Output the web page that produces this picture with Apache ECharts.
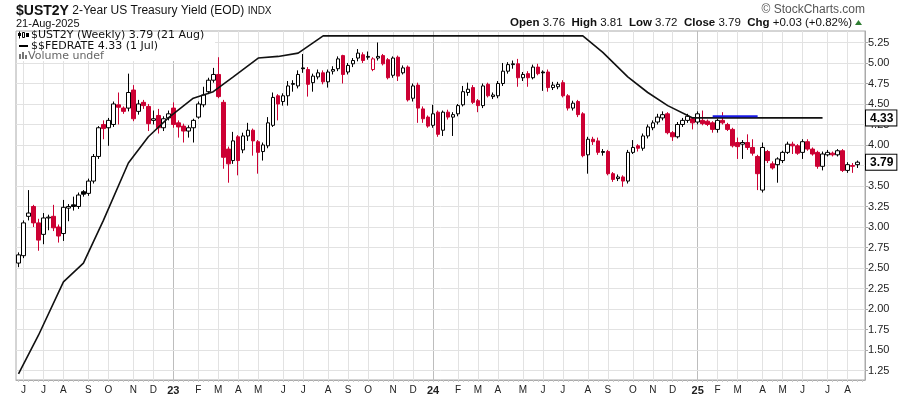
<!DOCTYPE html>
<html><head><meta charset="utf-8">
<script src="https://cdn.jsdelivr.net/npm/echarts@6/dist/echarts.min.js"></script>
<style>html,body{margin:0;padding:0;background:#fff}#c{width:900px;height:396px}</style>
</head><body><div id="c"></div>
<script>
// ---- data ----
const firstWeek = [2022, 5, 30];   // Monday of the first weekly bar
const weekSlots = 170;             // 169 bars + one empty slot at the right
const open = [2.56,2.65,3.13,3.25,3.05,2.91,3.11,3.13,3.00,2.92,3.23,3.27,3.25,3.43,3.41,3.56,3.86,4.25,4.21,4.25,
4.49,4.45,4.45,4.67,4.41,4.52,4.47,4.30,4.36,4.21,4.33,4.45,4.27,4.23,4.17,4.21,4.34,4.49,4.65,4.79,
4.86,4.52,3.95,3.81,4.10,3.94,4.11,4.18,4.04,3.92,3.99,4.24,4.60,4.53,4.60,4.74,4.72,4.94,4.92,4.76,
4.83,4.88,4.77,4.90,4.93,5.09,4.89,4.99,5.06,5.10,5.07,4.92,5.06,5.09,5.04,4.85,5.07,4.88,4.95,4.57,
4.73,4.44,4.34,4.24,4.40,4.18,4.40,4.34,4.38,4.49,4.64,4.70,4.54,4.48,4.74,4.59,4.60,4.75,4.90,4.98,
4.99,4.82,4.87,4.82,4.95,4.89,4.89,4.70,4.71,4.76,4.60,4.45,4.53,4.38,3.88,4.07,4.05,3.92,3.92,3.65,
3.59,3.61,3.56,3.91,3.99,3.96,4.11,4.21,4.28,4.33,4.38,4.15,4.10,4.25,4.30,4.32,4.28,4.30,4.29,4.27,
4.19,4.30,4.25,4.19,4.03,4.01,4.03,3.97,3.86,3.45,3.92,3.77,3.76,3.81,3.91,4.01,3.99,3.91,4.04,3.95,
3.91,3.74,3.88,3.90,3.88,3.93,3.69,3.75,3.76];
const high = [2.69,3.08,3.45,3.27,3.10,3.17,3.15,3.27,3.03,3.33,3.28,3.37,3.42,3.45,3.59,3.89,4.23,4.30,4.33,4.53,
4.64,4.47,4.87,4.73,4.55,4.55,4.50,4.42,4.44,4.35,4.42,4.52,4.30,4.26,4.24,4.32,4.53,4.71,4.82,4.94,
5.07,4.55,3.98,4.16,4.12,4.15,4.27,4.20,4.06,4.03,4.34,4.64,4.62,4.63,4.78,4.79,4.91,5.11,4.95,4.87,
4.92,4.91,4.92,4.96,5.08,5.10,5.00,5.06,5.17,5.13,5.14,5.07,5.25,5.11,5.06,5.08,5.09,4.97,4.97,4.75,
4.76,4.47,4.36,4.49,4.42,4.42,4.43,4.40,4.50,4.72,4.76,4.73,4.56,4.75,4.76,4.64,4.78,5.00,5.01,5.03,
5.05,4.89,4.90,4.98,4.99,4.91,4.92,4.77,4.77,4.79,4.62,4.54,4.55,4.40,4.10,4.10,4.09,3.95,3.94,3.67,
3.64,3.63,3.94,4.06,4.01,4.14,4.25,4.30,4.38,4.41,4.40,4.17,4.28,4.33,4.38,4.34,4.41,4.42,4.31,4.29,
4.32,4.40,4.27,4.21,4.09,4.06,4.13,4.07,3.88,4.03,3.94,3.80,3.85,3.93,4.04,4.04,4.01,4.07,4.07,3.97,
3.93,3.92,3.94,3.92,3.95,3.95,3.79,3.78,3.81];
const low = [2.51,2.62,3.08,3.00,2.71,2.79,2.96,2.95,2.81,2.83,3.07,3.20,3.22,3.37,3.38,3.53,3.83,4.07,3.99,4.22,
4.25,4.38,4.41,4.29,4.37,4.44,4.17,4.25,4.14,4.17,4.30,4.21,4.09,4.03,4.09,4.03,4.32,4.46,4.62,4.76,
4.57,3.71,3.54,3.77,3.63,3.90,4.05,3.87,3.65,3.81,3.96,4.22,4.30,4.48,4.48,4.65,4.69,4.88,4.59,4.65,
4.80,4.74,4.70,4.86,4.90,4.75,4.86,4.95,5.02,5.00,5.04,4.90,5.03,4.97,4.80,4.82,4.78,4.86,4.53,4.53,
4.27,4.27,4.21,4.21,4.10,4.11,4.31,4.11,4.35,4.47,4.60,4.50,4.40,4.45,4.58,4.56,4.57,4.72,4.87,4.93,
4.71,4.78,4.71,4.80,4.85,4.66,4.65,4.67,4.68,4.58,4.42,4.42,4.34,3.85,3.65,4.00,3.88,3.87,3.63,3.55,
3.56,3.49,3.53,3.89,3.92,3.93,4.08,4.18,4.25,4.30,4.13,4.05,4.08,4.22,4.27,4.19,4.25,4.24,4.23,4.15,
4.15,4.25,4.17,3.97,3.83,3.83,3.94,3.87,3.45,3.42,3.78,3.70,3.54,3.78,3.89,3.89,3.88,3.83,3.93,3.87,
3.71,3.69,3.86,3.86,3.86,3.67,3.66,3.66,3.72];
const close = [2.66,3.05,3.17,3.05,2.84,3.11,3.12,2.99,2.89,3.24,3.25,3.25,3.39,3.40,3.56,3.86,4.21,4.20,4.30,4.50,
4.46,4.41,4.64,4.32,4.50,4.48,4.26,4.32,4.21,4.32,4.38,4.25,4.22,4.17,4.21,4.30,4.50,4.61,4.79,4.86,
4.59,3.85,3.77,4.05,3.81,4.11,4.18,4.05,3.91,4.00,4.27,4.58,4.50,4.60,4.72,4.75,4.86,4.93,4.74,4.84,
4.88,4.77,4.89,4.92,5.05,4.86,4.97,5.03,5.12,5.03,5.08,5.05,5.08,4.99,4.82,5.06,4.84,4.94,4.55,4.72,
4.45,4.32,4.23,4.38,4.13,4.40,4.34,4.37,4.48,4.65,4.68,4.52,4.48,4.72,4.60,4.61,4.75,4.90,4.98,4.99,
4.82,4.86,4.82,4.95,4.87,4.88,4.70,4.73,4.74,4.60,4.45,4.51,4.37,3.87,4.07,4.04,3.91,3.91,3.65,3.58,
3.61,3.56,3.91,3.97,3.96,4.11,4.22,4.27,4.34,4.37,4.15,4.10,4.25,4.30,4.35,4.27,4.38,4.26,4.25,4.19,
4.30,4.27,4.19,3.99,3.98,4.03,3.97,3.90,3.65,3.97,3.81,3.72,3.83,3.91,4.01,3.99,3.90,4.04,3.95,3.89,
3.74,3.89,3.91,3.88,3.93,3.69,3.76,3.74,3.79];
const fedDates = ['2022-06-01','2022-07-01','2022-08-01','2022-09-01','2022-10-01','2022-11-01','2022-12-01',
'2023-01-01','2023-02-01','2023-03-01','2023-04-01','2023-05-01','2023-06-01','2023-07-01','2023-08-01','2023-09-01',
'2023-10-01','2023-11-01','2023-12-01','2024-01-01','2024-02-01','2024-03-01','2024-04-01','2024-05-01','2024-06-01',
'2024-07-01','2024-08-01','2024-09-01','2024-10-01','2024-11-01','2024-12-01','2025-01-01','2025-02-01','2025-03-01',
'2025-04-01','2025-05-01','2025-06-01','2025-07-01'];
const fedRate = [1.21,1.68,2.33,2.56,3.08,3.78,4.10,
4.33,4.57,4.65,4.83,5.06,5.08,5.12,5.33,5.33,5.33,5.33,5.33,
5.33,5.33,5.33,5.33,5.33,5.33,5.33,5.33,5.13,4.83,4.64,4.48,
4.33,4.33,4.33,4.33,4.33,4.33,4.33];
const blueDates = ['2025-01-27','2025-03-31'];
const blueLevel = 4.35;
const yTicks = [1.25,1.5,1.75,2,2.25,2.5,2.75,3,3.25,3.5,3.75,4,4.25,4.5,4.75,5,5.25];
const monthLetters = ['J','F','M','A','M','J','J','A','S','O','N','D'];

// ---- build ----
const DAY = 864e5;
const t0 = Date.UTC(firstWeek[0], firstWeek[1]-1, firstWeek[2]);
const pad = n => (n<10?'0':'')+n;
const categories = [];
const catMonth = [];
const catYear = [];
for (let i=0;i<weekSlots;i++){
  const d = new Date(t0 + i*7*DAY);
  categories.push(d.getUTCFullYear()+'-'+pad(d.getUTCMonth()+1)+'-'+pad(d.getUTCDate()));
  catMonth.push(d.getUTCMonth()); catYear.push(d.getUTCFullYear());
}
const monthStart = categories.map((c,i)=> i>0 && catMonth[i]!==catMonth[i-1]);
const weekIndex = s => { const p=s.split('-').map(Number); return Math.floor((Date.UTC(p[0],p[1]-1,p[2])-t0)/(7*DAY)); };

const RED = '#cc0033';
const candleData = open.map((o,i)=>{
  const c = close[i];
  const prev = i>0 ? close[i-1] : o;
  const edge = c < prev ? RED : '#000';
  const fill = c >= o ? '#fff' : edge;
  return {value:[o,c,low[i],high[i]], itemStyle:{color:fill,color0:fill,borderColor:edge,borderColor0:edge}};
});

const fedData = new Array(weekSlots).fill(null);
fedDates.forEach((d,k)=>{ fedData[weekIndex(d)] = fedRate[k]; });
const blueData = new Array(weekSlots).fill(null);
for (let i=weekIndex(blueDates[0]); i<=weekIndex(blueDates[1]); i++) blueData[i]=blueLevel;

const gridLines = [];
monthStart.forEach((m,i)=>{ if(m) gridLines.push({xAxis:categories[i], lineStyle:{color: catMonth[i]===0 ? '#bdbdbd' : '#e2e2e2'}}); });
yTicks.forEach(v=>gridLines.push({yAxis:v, lineStyle:{color:'#e2e2e2'}}));

const FONT = '"Liberation Sans", Arial, sans-serif';
const LFONT = '11px "DejaVu Sans", sans-serif';
const chart = echarts.init(document.getElementById('c'), null, {renderer:'canvas'});
const tagLabel = {show:true, position:'end', distance:1, formatter:p=>'{t|'+p.value.toFixed(2)+'}',
  rich:{t:{color:'#000', fontWeight:'bold', fontSize:12, fontFamily:FONT, backgroundColor:'#fff',
  borderColor:'#000', borderWidth:1, padding:[2,3,1,4]}}};
const tagLine = {color:'rgba(0,0,0,0)', width:0};
const LZ = 60;

chart.setOption({
  animation:false,
  backgroundColor:'#fff',
  grid:{left:16, top:31, width:849, height:349, show:true, borderColor:'#aaa', borderWidth:1, backgroundColor:'transparent'},
  xAxis:{type:'category', data:categories, boundaryGap:true,
    axisLine:{show:true, lineStyle:{color:'#aaa'}},
    axisTick:{show:true, interval:0, alignWithLabel:true, length:2, lineStyle:{color:'#c8c8c8'}},
    axisLabel:{interval:(i)=>monthStart[i], margin:5, color:'#222', fontSize:10, fontFamily:FONT,
      formatter:(v,i)=> catMonth[i]===0 ? '{y|'+String(catYear[i]).slice(2)+'}' : monthLetters[catMonth[i]],
      rich:{y:{fontWeight:'bold', fontSize:11, fontFamily:FONT, color:'#222'}}},
    splitLine:{show:false}},
  yAxis:{type:'value', position:'right', min:1.134, max:5.390, scale:true,
    axisLine:{show:true, lineStyle:{color:'#aaa'}},
    axisTick:{show:true, customValues:yTicks, length:3, lineStyle:{color:'#aaa'}},
    axisLabel:{customValues:yTicks, formatter:v=>v.toFixed(2), color:'#222', fontSize:11, fontFamily:FONT, margin:3},
    splitLine:{show:false}},
  series:[
    {type:'line', data:new Array(weekSlots).fill(null), silent:true, z:1,
     markLine:{silent:true, z:1, symbol:['none','none'], label:{show:false}, animation:false,
       lineStyle:{type:'solid', width:1}, data:gridLines}},
    {type:'candlestick', data:candleData, barWidth:4, z:3, silent:true,
     markLine:{silent:true, z:10, symbol:['none','none'], lineStyle:tagLine, label:tagLabel,
       emphasis:{disabled:true}, data:[{yAxis:close[close.length-1]}]}},
    {type:'line', data:fedData, connectNulls:true, symbol:'none', z:4, silent:true,
     lineStyle:{color:'#111', width:1.6},
     markLine:{silent:true, z:10, symbol:['none','none'], lineStyle:tagLine, label:tagLabel,
       emphasis:{disabled:true}, data:[{yAxis:fedRate[fedRate.length-1]}]}},
    {type:'line', data:blueData, symbol:'none', z:5, silent:true, lineStyle:{color:'#1a1ae6', width:2}}
  ],
  graphic:[
    {type:'text', x:16, y:4, style:{text:'{a|$UST2Y} {b|2-Year US Treasury Yield (EOD)} {c|INDX}',
      rich:{a:{font:'bold 14px '+FONT, fill:'#111'}, b:{font:'12px '+FONT, fill:'#111'}, c:{font:'10px '+FONT, fill:'#111'}}}},
    {type:'text', x:16, y:18, style:{text:'21-Aug-2025', font:'11px '+FONT, fill:'#111'}},
    {type:'text', x:865, y:4, style:{text:'© StockCharts.com', font:'12px '+FONT, fill:'#555', textAlign:'right'}},
    {type:'text', x:852, y:17, style:{textAlign:'right',
      text:'{b|Open} 3.76  {b|High} 3.81  {b|Low} 3.72  {b|Close} 3.79  {b|Chg} +0.03 (+0.82%)',
      font:'11.5px '+FONT, fill:'#111', rich:{b:{font:'bold 11.5px '+FONT, fill:'#111'}}}},
    {type:'polygon', shape:{points:[[855,25],[858.5,20],[862,25]]}, style:{fill:'#2e7d32'}},
    // legend box
    {type:'rect', z:LZ, shape:{x:17,y:32,width:198,height:29}, style:{fill:'#fff'}},
    {type:'rect', z:LZ+1, shape:{x:19,y:31.5,width:1,height:7}, style:{fill:'#000'}},
    {type:'rect', z:LZ+1, shape:{x:18,y:33,width:3,height:3}, style:{fill:'#000'}},
    {type:'rect', z:LZ+1, shape:{x:22.5,y:32.5,width:2,height:5}, style:{fill:'#fff', stroke:'#000', lineWidth:1}},
    {type:'rect', z:LZ+1, shape:{x:26,y:33,width:3,height:4}, style:{fill:'#000'}},
    {type:'text', z:LZ+1, x:31, y:35.5, style:{text:'$UST2Y (Weekly) 3.79 (21 Aug)', font:LFONT, fill:'#111', textVerticalAlign:'middle'}},
    {type:'rect', z:LZ+1, shape:{x:19,y:45,width:9,height:2}, style:{fill:'#000'}},
    {type:'text', z:LZ+1, x:31, y:46, style:{text:'$$FEDRATE 4.33 (1 Jul)', font:LFONT, fill:'#111', textVerticalAlign:'middle'}},
    {type:'rect', z:LZ+1, shape:{x:19,y:54,width:2,height:5}, style:{fill:'#777'}},
    {type:'rect', z:LZ+1, shape:{x:22,y:52,width:2,height:7}, style:{fill:'#777'}},
    {type:'rect', z:LZ+1, shape:{x:25,y:55,width:2,height:4}, style:{fill:'#777'}},
    {type:'text', z:LZ+1, x:28, y:56, style:{text:'Volume undef', font:LFONT, fill:'#666', textVerticalAlign:'middle'}}
  ]
});
</script></body></html>
